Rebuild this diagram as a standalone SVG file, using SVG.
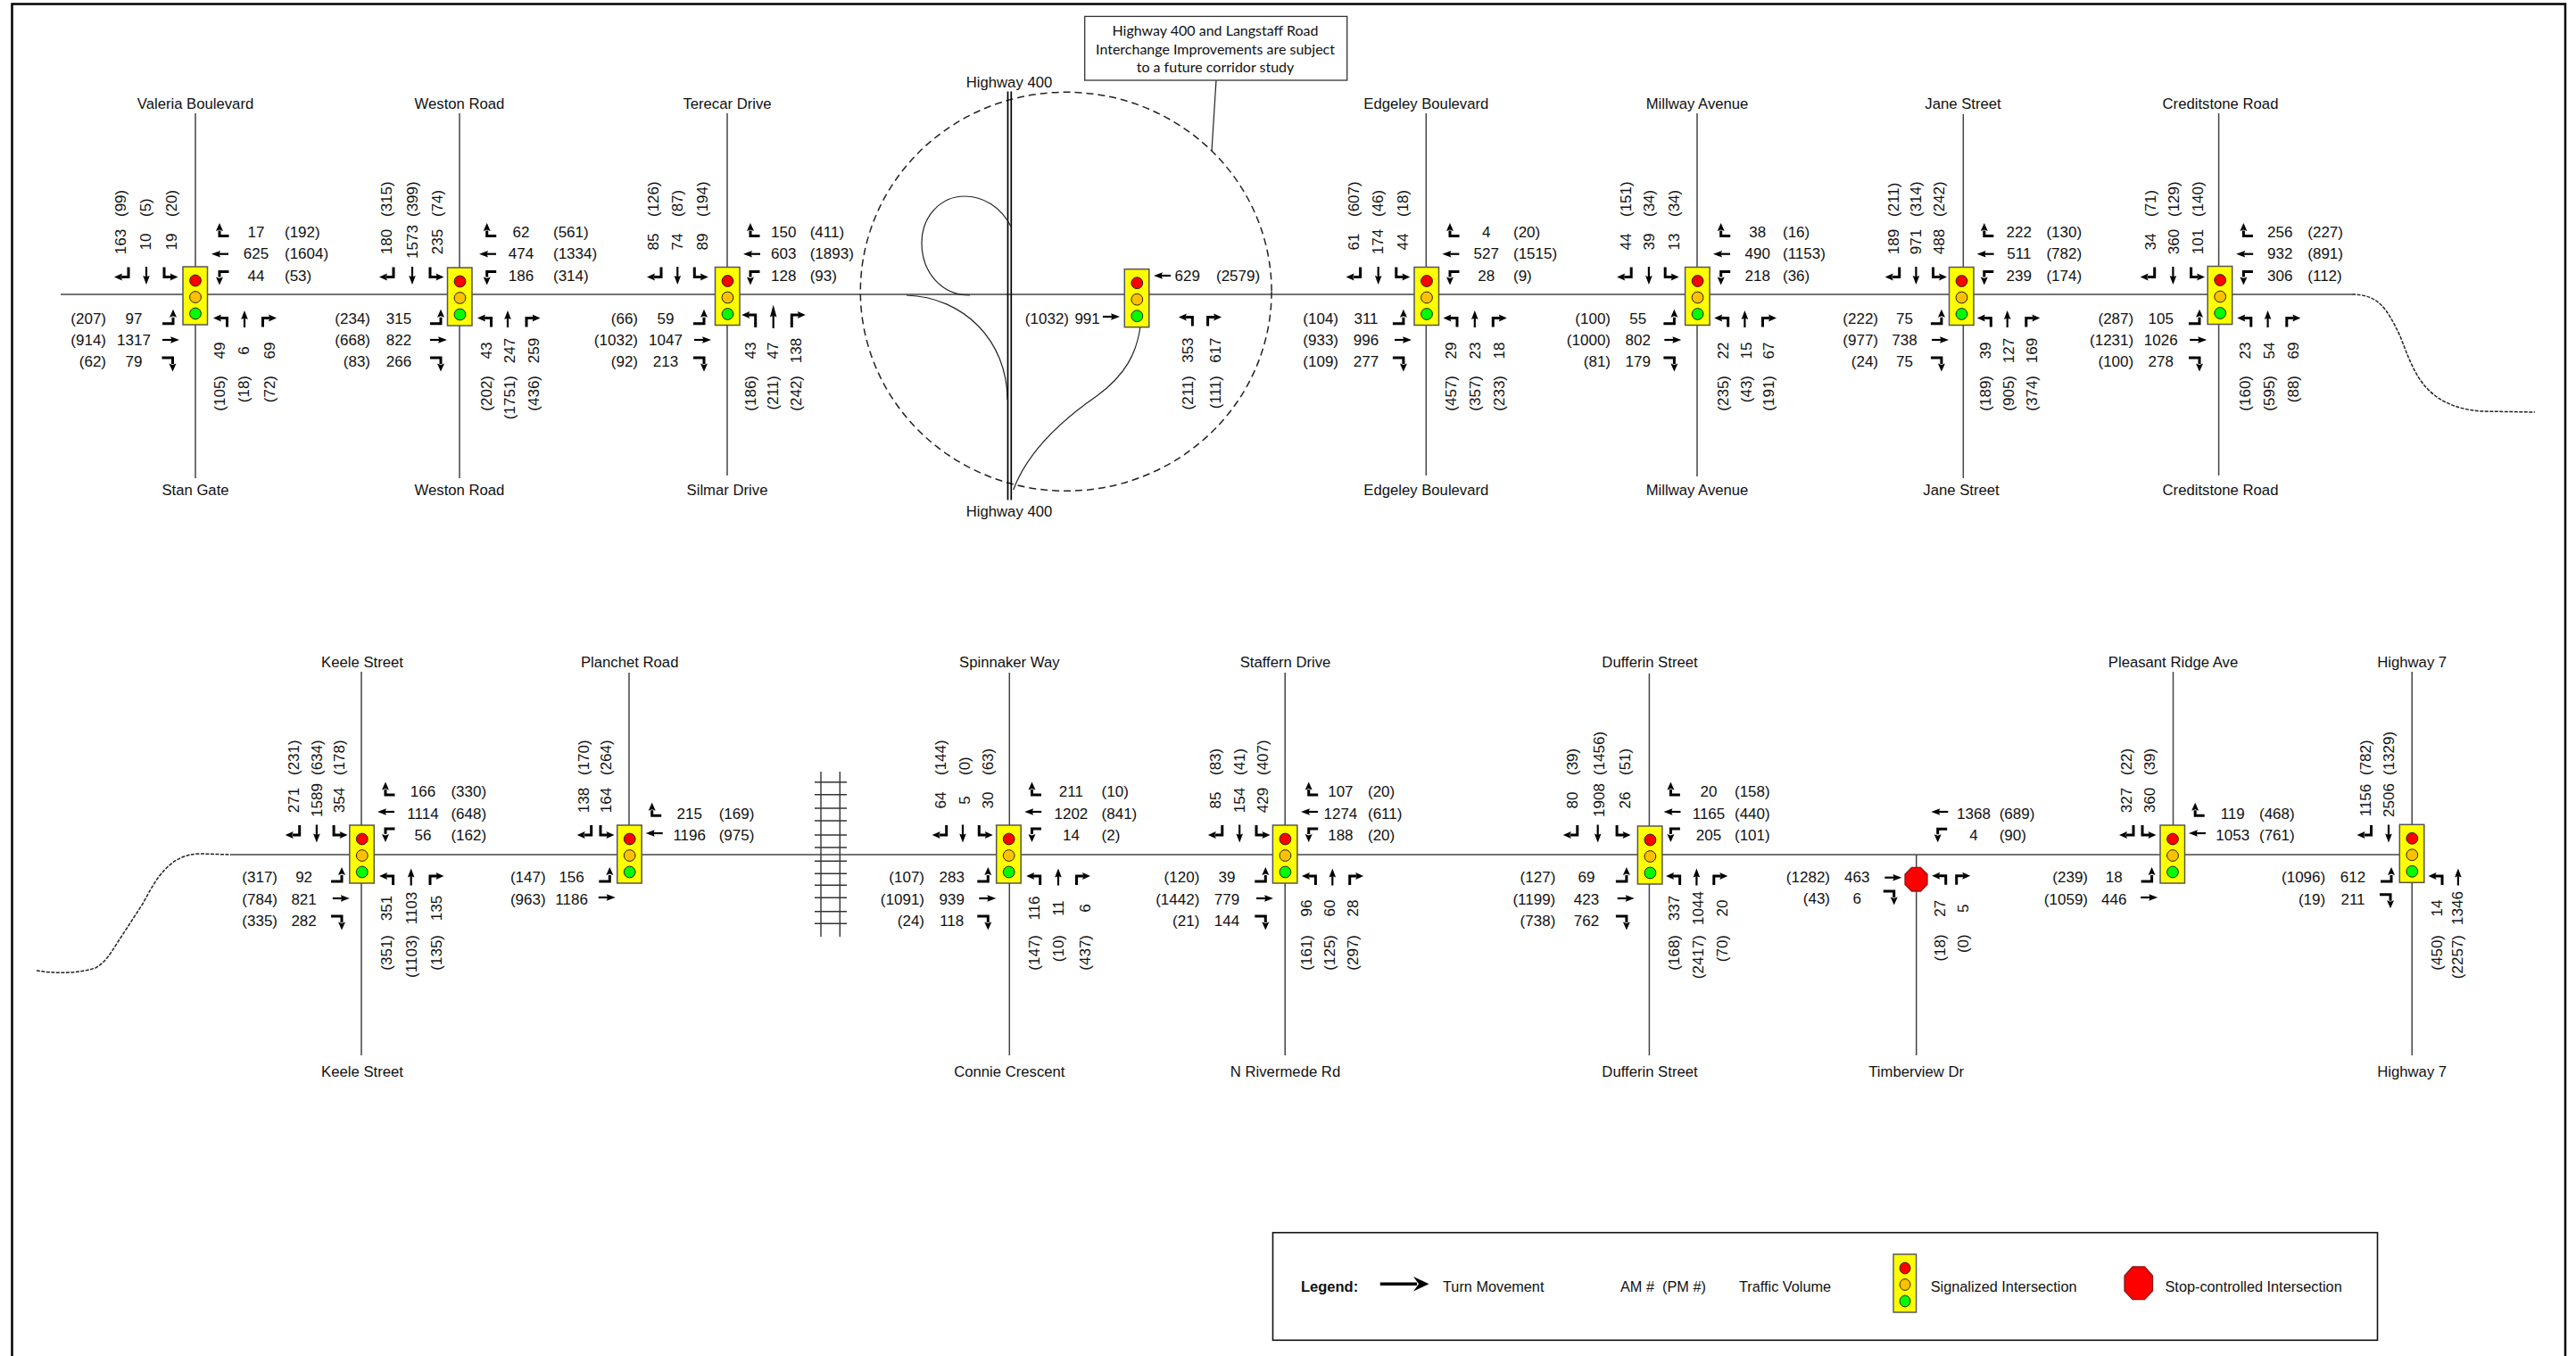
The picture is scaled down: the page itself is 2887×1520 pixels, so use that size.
<svg xmlns="http://www.w3.org/2000/svg" width="2887" height="1520" viewBox="0 0 2887 1520">
<style>
text{font-family:"Liberation Sans",Arial,sans-serif;font-size:17px;fill:#111}
.m{text-anchor:middle}.e{text-anchor:end}
.nm{font-size:16.7px;text-anchor:middle}
.lg{font-size:16.3px}
.note{font-family:Lato,"Open Sans",sans-serif;font-size:16px;text-anchor:middle}
.s3{fill:none;stroke:#000;stroke-width:3}
.s2{fill:none;stroke:#000;stroke-width:2.2}
.h{fill:#000;stroke:none}
.rd{fill:none;stroke:#444;stroke-width:1.5}
.ramp{fill:none;stroke:#222;stroke-width:1.2}
.dash{fill:none;stroke:#222;stroke-width:1.5}
</style>
<defs>
<g id="sig"><rect width="27.5" height="65" fill="#ffff00" stroke="#555" stroke-width="1.5"/><circle cx="14" cy="15.5" r="6.4" fill="#ff0000" stroke="#222"/><circle cx="14" cy="34" r="6.4" fill="#ffc000" stroke="#222"/><circle cx="14" cy="52.5" r="6.4" fill="#00ff00" stroke="#222"/></g>
<g id="sR"><path class="s3" d="M0,-11V0H-8"/><path class="h" d="M-16,0L-7,-4L-8.5,0L-7,4Z"/></g>
<g id="sT"><path class="s2" d="M0,0V12"/><path class="h" d="M0,20L-3.8,10L0,11.5L3.8,10Z"/></g>
<g id="sL"><path class="s3" d="M0,-11V0H8"/><path class="h" d="M15.5,0L6.5,-4L8,0L6.5,4Z"/></g>
<g id="wR"><path class="s3" d="M10.5,0H0V-6"/><path class="h" d="M0,-14.5L-4,-5.5L0,-7L4,-5.5Z"/></g>
<g id="wT"><path class="s2" d="M0,0H-11"/><path class="h" d="M-19,0L-9,-3.8L-10.5,0L-9,3.8Z"/></g>
<g id="wL"><path class="s3" d="M10.5,0H0V6"/><path class="h" d="M0,15L-4,6L0,7.5L4,6Z"/></g>
<g id="nL"><path class="s3" d="M0,10V0H-8"/><path class="h" d="M-15.5,0L-6.5,-4L-8,0L-6.5,4Z"/></g>
<g id="nT"><path class="s2" d="M0,0V-11"/><path class="h" d="M0,-19L-3.8,-9L0,-10.5L3.8,-9Z"/></g>
<g id="nR"><path class="s3" d="M0,10V0H8"/><path class="h" d="M15.5,0L6.5,-4L8,0L6.5,4Z"/></g>
<g id="eL"><path class="s3" d="M-12,0H0V-7"/><path class="h" d="M0,-16L-4,-7L0,-8.5L4,-7Z"/></g>
<g id="eT"><path class="s2" d="M0,0H11"/><path class="h" d="M19,0L9,-3.8L10.5,0L9,3.8Z"/></g>
<g id="eR"><path class="s3" d="M-12,0H0V7"/><path class="h" d="M0,15.5L-4,6.5L0,8L4,6.5Z"/></g>
</defs>
<rect width="2887" height="1520" fill="#fff"/>
<path id="frame" d="M13.5,1520V4.5H2875V1520" fill="none" stroke="#000" stroke-width="2.5"/>

<g id="connectors">
<path class="rd" d="M68,330H2636"/>
<path class="dash" stroke-dasharray="4 1.5" d="M2636,330C2665,330 2675,345 2690,377C2705,415 2715,455 2780,461L2841,462"/>
<path class="rd" d="M259,958H2690"/>
<path class="dash" stroke-dasharray="4 1.5" d="M41,1088C60,1091 85,1092 107,1085C120,1078 127,1063 134,1053L160,1013C175,985 190,957 225,957L259,958"/>
<path class="rd" d="M219,127V536M515,127V536M815,127V533M1598.3,127V533M1902,127V534M2200.3,128V536M2486.6,127V533"/>
<path class="rd" d="M405,753V1183M705,754V925M1131.3,754V1183M1440.2,754V1183M1848.4,755V1183M2147.7,958V1183M2435.5,753V925M2703.2,753V1183"/>
<g id="interchange">
<ellipse class="dash" cx="1194.7" cy="326.8" rx="230.4" ry="223.5" stroke-dasharray="8 5"/>
<path d="M1129.5,102.5V560.5M1133.3,102.5V560.5" fill="none" stroke="#000" stroke-width="1.7"/>
<path class="ramp" d="M1133,254C1122,232 1102,220 1081,220C1054,220 1033,243 1033,272C1033,305 1055,331 1087,331"/>
<path class="ramp" d="M1016,331C1080,333 1129,382 1129,448"/>
<path class="ramp" d="M1278,366C1274,395 1262,420 1229,444C1190,471 1152,505 1135.7,549"/>
<path class="ramp" d="M1363,90L1358,169.5"/>
</g>
<g id="railway" fill="none" stroke="#333" stroke-width="1.4">
<path d="M920,865V1050M941.3,865V1050"/>
<path d="M913,876.7H949M913,890.7H949M913,906H949M913,920H949M913,936H949M913,950H949M913,965.3H949M913,979.3H949M913,992.3H949M913,1006.3H949M913,1021.7H949M913,1035.3H949"/>
</g>
</g>

<g id="n1">
<use href="#sig" x="205" y="299"/>
<text class="nm" x="219" y="122">Valeria Boulevard</text><text class="nm" x="219" y="555">Stan Gate</text>
<use href="#sR" x="144" y="310.5"/><use href="#sT" x="164" y="299"/><use href="#sL" x="184" y="310.5"/>
<use href="#wR" x="246" y="264.5"/><use href="#wT" x="256" y="284.7"/><use href="#wL" x="246" y="304.5"/>
<use href="#nL" x="254.5" y="356.5"/><use href="#nT" x="274" y="367"/><use href="#nR" x="294.5" y="356.5"/>
<use href="#eL" x="194" y="362.7"/><use href="#eT" x="182" y="381"/><use href="#eR" x="193.5" y="401"/>
<text class="m" transform="translate(141,271) rotate(-90)">163</text><text class="m" transform="translate(169,271) rotate(-90)">10</text><text class="m" transform="translate(198,271) rotate(-90)">19</text>
<text transform="translate(141,243) rotate(-90)">(99)</text><text transform="translate(169,243) rotate(-90)">(5)</text><text transform="translate(198,243) rotate(-90)">(20)</text>
<text class="m" x="287" y="266">17</text><text x="319" y="266">(192)</text><text class="m" x="287" y="290">625</text><text x="319" y="290">(1604)</text><text class="m" x="287" y="314.5">44</text><text x="319" y="314.5">(53)</text>
<text class="e" x="119" y="363">(207)</text><text class="m" x="150" y="363">97</text><text class="e" x="119" y="387">(914)</text><text class="m" x="150" y="387">1317</text><text class="e" x="119" y="411">(62)</text><text class="m" x="150" y="411">79</text>
<text class="m" transform="translate(252,393) rotate(-90)">49</text><text class="m" transform="translate(279,393) rotate(-90)">6</text><text class="m" transform="translate(308,393) rotate(-90)">69</text>
<text class="e" transform="translate(252,421) rotate(-90)">(105)</text><text class="e" transform="translate(279,421) rotate(-90)">(18)</text><text class="e" transform="translate(308,421) rotate(-90)">(72)</text>
</g>

<g id="n2">
<use href="#sig" x="501.5" y="300"/>
<text class="nm" x="515" y="122">Weston Road</text><text class="nm" x="515" y="555">Weston Road</text>
<use href="#sR" x="441" y="310.5"/><use href="#sT" x="462" y="299"/><use href="#sL" x="482" y="310.5"/>
<use href="#wR" x="545.7" y="264.5"/><use href="#wT" x="556" y="284.7"/><use href="#wL" x="545.7" y="304.5"/>
<use href="#nL" x="550.5" y="356.5"/><use href="#nT" x="569" y="367"/><use href="#nR" x="590" y="356.5"/>
<use href="#eL" x="494" y="362.7"/><use href="#eT" x="482" y="381"/><use href="#eR" x="494" y="401"/>
<text class="m" transform="translate(439,271) rotate(-90)">180</text><text class="m" transform="translate(468,271) rotate(-90)">1573</text><text class="m" transform="translate(496,271) rotate(-90)">235</text>
<text transform="translate(439,243) rotate(-90)">(315)</text><text transform="translate(468,243) rotate(-90)">(399)</text><text transform="translate(496,243) rotate(-90)">(74)</text>
<text class="m" x="584" y="266">62</text><text x="620" y="266">(561)</text><text class="m" x="584" y="290">474</text><text x="620" y="290">(1334)</text><text class="m" x="584" y="314.5">186</text><text x="620" y="314.5">(314)</text>
<text class="e" x="415" y="363">(234)</text><text class="m" x="447" y="363">315</text><text class="e" x="415" y="387">(668)</text><text class="m" x="447" y="387">822</text><text class="e" x="415" y="411">(83)</text><text class="m" x="447" y="411">266</text>
<text class="m" transform="translate(551,393) rotate(-90)">43</text><text class="m" transform="translate(577,393) rotate(-90)">247</text><text class="m" transform="translate(604,393) rotate(-90)">259</text>
<text class="e" transform="translate(551,421) rotate(-90)">(202)</text><text class="e" transform="translate(577,421) rotate(-90)">(1751)</text><text class="e" transform="translate(604,421) rotate(-90)">(436)</text>
</g>

<g id="n3">
<use href="#sig" x="801.5" y="299.5"/>
<text class="nm" x="815" y="122">Terecar Drive</text><text class="nm" x="815" y="555">Silmar Drive</text>
<use href="#sR" x="741" y="310.5"/><use href="#sT" x="759.3" y="299"/><use href="#sL" x="778.3" y="310.5"/>
<use href="#wR" x="841" y="264.5"/><use href="#wT" x="852" y="284.7"/><use href="#wL" x="841" y="304.5"/>
<use href="#nL" x="846.7" y="353"/><path class="s3" d="M846.7,362V367M887.3,362V367"/><use href="#nT" transform="translate(866.7,368) scale(1,1.38)"/><use href="#nR" x="887.3" y="353"/>
<use href="#eL" x="789" y="362.7"/><use href="#eT" x="778" y="381"/><use href="#eR" x="789" y="401"/>
<text class="m" transform="translate(738.3,271) rotate(-90)">85</text><text class="m" transform="translate(764.7,271) rotate(-90)">74</text><text class="m" transform="translate(792.7,271) rotate(-90)">89</text>
<text transform="translate(738.3,243) rotate(-90)">(126)</text><text transform="translate(764.7,243) rotate(-90)">(87)</text><text transform="translate(792.7,243) rotate(-90)">(194)</text>
<text class="m" x="878.3" y="266">150</text><text x="907.7" y="266">(411)</text><text class="m" x="878.3" y="290">603</text><text x="907.7" y="290">(1893)</text><text class="m" x="878.3" y="314.5">128</text><text x="907.7" y="314.5">(93)</text>
<text class="e" x="715" y="363">(66)</text><text class="m" x="746" y="363">59</text><text class="e" x="715" y="387">(1032)</text><text class="m" x="746" y="387">1047</text><text class="e" x="715" y="411">(92)</text><text class="m" x="746" y="411">213</text>
<text class="m" transform="translate(847,393) rotate(-90)">43</text><text class="m" transform="translate(871.7,393) rotate(-90)">47</text><text class="m" transform="translate(897.7,393) rotate(-90)">138</text>
<text class="e" transform="translate(847,421) rotate(-90)">(186)</text><text class="e" transform="translate(871.7,421) rotate(-90)">(211)</text><text class="e" transform="translate(897.7,421) rotate(-90)">(242)</text>
</g>

<g id="n4">
<text class="nm" x="1131" y="98">Highway 400</text><text class="nm" x="1131" y="579">Highway 400</text>
<use href="#sig" x="1260.3" y="301.7"/>
<use href="#wT" x="1312" y="309"/><use href="#eT" x="1236" y="355"/><use href="#nL" x="1336.4" y="355.5"/><use href="#nR" x="1353.6" y="355.5"/>
<text class="m" x="1330.7" y="315">629</text><text x="1363" y="315">(2579)</text>
<text class="e" x="1198" y="363">(1032)</text><text class="m" x="1218.6" y="363">991</text>
<text class="m" transform="translate(1337,392.6) rotate(-90)">353</text><text class="m" transform="translate(1368,392.6) rotate(-90)">617</text>
<text class="e" transform="translate(1337,421) rotate(-90)">(211)</text><text class="e" transform="translate(1368,421) rotate(-90)">(111)</text>
</g>
<g id="note">
<rect x="1215.7" y="18.4" width="294" height="71.6" fill="#fff" stroke="#333" stroke-width="1.3"/>
<text class="note" x="1362" y="39.5">Highway 400 and Langstaff Road</text>
<text class="note" x="1362" y="60.5">Interchange Improvements are subject</text>
<text class="note" x="1362" y="80.5">to a future corridor study</text>
</g>

<g id="n5">
<use href="#sig" x="1585" y="299.5"/>
<text class="nm" x="1598.3" y="122">Edgeley Boulevard</text><text class="nm" x="1598.3" y="555">Edgeley Boulevard</text>
<use href="#sR" x="1524.6" y="310.5"/><use href="#sT" x="1544.7" y="299"/><use href="#sL" x="1564.8" y="310.5"/>
<use href="#wR" x="1625" y="264.5"/><use href="#wT" x="1635.4" y="284.7"/><use href="#wL" x="1625" y="304.5"/>
<use href="#nL" x="1633" y="356.5"/><use href="#nT" x="1652.8" y="367"/><use href="#nR" x="1673.3" y="356.5"/>
<use href="#eL" x="1572.9" y="362.7"/><use href="#eT" x="1563" y="381"/><use href="#eR" x="1572.9" y="401"/>
<text class="m" transform="translate(1523,271) rotate(-90)">61</text><text class="m" transform="translate(1550,271) rotate(-90)">174</text><text class="m" transform="translate(1577.5,271) rotate(-90)">44</text>
<text transform="translate(1523,243) rotate(-90)">(607)</text><text transform="translate(1550,243) rotate(-90)">(46)</text><text transform="translate(1577.5,243) rotate(-90)">(18)</text>
<text class="m" x="1665.7" y="266">4</text><text x="1696" y="266">(20)</text><text class="m" x="1665.7" y="290">527</text><text x="1696" y="290">(1515)</text><text class="m" x="1665.7" y="314.5">28</text><text x="1696" y="314.5">(9)</text>
<text class="e" x="1500" y="363">(104)</text><text class="m" x="1531" y="363">311</text><text class="e" x="1500" y="387">(933)</text><text class="m" x="1531" y="387">996</text><text class="e" x="1500" y="411">(109)</text><text class="m" x="1531" y="411">277</text>
<text class="m" transform="translate(1632.4,393) rotate(-90)">29</text><text class="m" transform="translate(1659,393) rotate(-90)">23</text><text class="m" transform="translate(1686,393) rotate(-90)">18</text>
<text class="e" transform="translate(1632.4,421) rotate(-90)">(457)</text><text class="e" transform="translate(1659,421) rotate(-90)">(357)</text><text class="e" transform="translate(1686,421) rotate(-90)">(233)</text>
</g>

<g id="n6">
<use href="#sig" x="1888.6" y="299.5"/>
<text class="nm" x="1902" y="122">Millway Avenue</text><text class="nm" x="1902" y="555">Millway Avenue</text>
<use href="#sR" x="1828.2" y="310.5"/><use href="#sT" x="1847.9" y="299"/><use href="#sL" x="1866.2" y="310.5"/>
<use href="#wR" x="1928.7" y="264.5"/><use href="#wT" x="1939" y="284.7"/><use href="#wL" x="1928.7" y="304.5"/>
<use href="#nL" x="1936.7" y="356.5"/><use href="#nT" x="1955.4" y="367"/><use href="#nR" x="1975.5" y="356.5"/>
<use href="#eL" x="1876.4" y="362.7"/><use href="#eT" x="1865.3" y="381"/><use href="#eR" x="1876.4" y="401"/>
<text class="m" transform="translate(1828.4,271) rotate(-90)">44</text><text class="m" transform="translate(1854.3,271) rotate(-90)">39</text><text class="m" transform="translate(1882,271) rotate(-90)">13</text>
<text transform="translate(1828.4,243) rotate(-90)">(151)</text><text transform="translate(1854.3,243) rotate(-90)">(34)</text><text transform="translate(1882,243) rotate(-90)">(34)</text>
<text class="m" x="1969.7" y="266">38</text><text x="1998" y="266">(16)</text><text class="m" x="1969.7" y="290">490</text><text x="1998" y="290">(1153)</text><text class="m" x="1969.7" y="314.5">218</text><text x="1998" y="314.5">(36)</text>
<text class="e" x="1805" y="363">(100)</text><text class="m" x="1835.8" y="363">55</text><text class="e" x="1805" y="387">(1000)</text><text class="m" x="1835.8" y="387">802</text><text class="e" x="1805" y="411">(81)</text><text class="m" x="1835.8" y="411">179</text>
<text class="m" transform="translate(1936.9,393) rotate(-90)">22</text><text class="m" transform="translate(1962.8,393) rotate(-90)">15</text><text class="m" transform="translate(1988.2,393) rotate(-90)">67</text>
<text class="e" transform="translate(1936.9,421) rotate(-90)">(235)</text><text class="e" transform="translate(1962.8,421) rotate(-90)">(43)</text><text class="e" transform="translate(1988.2,421) rotate(-90)">(191)</text>
</g>

<g id="n7">
<use href="#sig" x="2184.5" y="299.5"/>
<text class="nm" x="2200" y="122">Jane Street</text><text class="nm" x="2198" y="555">Jane Street</text>
<use href="#sR" x="2128.7" y="310.5"/><use href="#sT" x="2147.4" y="299"/><use href="#sL" x="2166.5" y="310.5"/>
<use href="#wR" x="2223.8" y="264.5"/><use href="#wT" x="2234.6" y="284.7"/><use href="#wL" x="2223.8" y="304.5"/>
<use href="#nL" x="2231.3" y="356.5"/><use href="#nT" x="2249.7" y="367"/><use href="#nR" x="2270.8" y="356.5"/>
<use href="#eL" x="2175.9" y="362.7"/><use href="#eT" x="2165" y="381"/><use href="#eR" x="2175.9" y="401"/>
<text class="m" transform="translate(2127.5,271) rotate(-90)">189</text><text class="m" transform="translate(2153.4,271) rotate(-90)">971</text><text class="m" transform="translate(2179,271) rotate(-90)">488</text>
<text transform="translate(2127.5,243) rotate(-90)">(211)</text><text transform="translate(2153.4,243) rotate(-90)">(314)</text><text transform="translate(2179,243) rotate(-90)">(242)</text>
<text class="m" x="2262.8" y="266">222</text><text x="2293.4" y="266">(130)</text><text class="m" x="2262.8" y="290">511</text><text x="2293.4" y="290">(782)</text><text class="m" x="2262.8" y="314.5">239</text><text x="2293.4" y="314.5">(174)</text>
<text class="e" x="2105" y="363">(222)</text><text class="m" x="2134.5" y="363">75</text><text class="e" x="2105" y="387">(977)</text><text class="m" x="2134.5" y="387">738</text><text class="e" x="2105" y="411">(24)</text><text class="m" x="2134.5" y="411">75</text>
<text class="m" transform="translate(2231,393) rotate(-90)">39</text><text class="m" transform="translate(2257,393) rotate(-90)">127</text><text class="m" transform="translate(2283,393) rotate(-90)">169</text>
<text class="e" transform="translate(2231,421) rotate(-90)">(189)</text><text class="e" transform="translate(2257,421) rotate(-90)">(905)</text><text class="e" transform="translate(2283,421) rotate(-90)">(374)</text>
</g>

<g id="n8">
<use href="#sig" x="2474.2" y="298.5"/>
<text class="nm" x="2488.5" y="122">Creditstone Road</text><text class="nm" x="2488.5" y="555">Creditstone Road</text>
<use href="#sR" x="2414.7" y="310.5"/><use href="#sT" x="2435.4" y="299"/><use href="#sL" x="2455.6" y="310.5"/>
<use href="#wR" x="2514.4" y="264.5"/><use href="#wT" x="2525.2" y="284.7"/><use href="#wL" x="2514.4" y="304.5"/>
<use href="#nL" x="2522.8" y="356.5"/><use href="#nT" x="2541.6" y="367"/><use href="#nR" x="2562.8" y="356.5"/>
<use href="#eL" x="2465" y="362.7"/><use href="#eT" x="2454.2" y="381"/><use href="#eR" x="2465" y="401"/>
<text class="m" transform="translate(2415.5,271) rotate(-90)">34</text><text class="m" transform="translate(2442.3,271) rotate(-90)">360</text><text class="m" transform="translate(2468.6,271) rotate(-90)">101</text>
<text transform="translate(2415.5,243) rotate(-90)">(71)</text><text transform="translate(2442.3,243) rotate(-90)">(129)</text><text transform="translate(2468.6,243) rotate(-90)">(140)</text>
<text class="m" x="2555.3" y="266">256</text><text x="2586.3" y="266">(227)</text><text class="m" x="2555.3" y="290">932</text><text x="2586.3" y="290">(891)</text><text class="m" x="2555.3" y="314.5">306</text><text x="2586.3" y="314.5">(112)</text>
<text class="e" x="2391.2" y="363">(287)</text><text class="m" x="2421.7" y="363">105</text><text class="e" x="2391.2" y="387">(1231)</text><text class="m" x="2421.7" y="387">1026</text><text class="e" x="2391.2" y="411">(100)</text><text class="m" x="2421.7" y="411">278</text>
<text class="m" transform="translate(2521.8,393) rotate(-90)">23</text><text class="m" transform="translate(2548.6,393) rotate(-90)">54</text><text class="m" transform="translate(2575.8,393) rotate(-90)">69</text>
<text class="e" transform="translate(2521.8,421) rotate(-90)">(160)</text><text class="e" transform="translate(2548.6,421) rotate(-90)">(595)</text><text class="e" transform="translate(2575.8,421) rotate(-90)">(88)</text>
</g>

<g id="n9">
<use href="#sig" x="391.8" y="925"/>
<text class="nm" x="406" y="748">Keele Street</text><text class="nm" x="406" y="1207">Keele Street</text>
<use href="#sR" x="335.7" y="936"/><use href="#sT" x="354.9" y="924.5"/><use href="#sL" x="374.1" y="936"/>
<use href="#wR" x="432" y="891"/><use href="#wT" x="442" y="910"/><use href="#wL" x="432" y="929"/>
<use href="#nL" x="440.6" y="982"/><use href="#nT" x="460.7" y="992.5"/><use href="#nR" x="482" y="982"/>
<use href="#eL" x="383" y="988"/><use href="#eT" x="372.8" y="1007"/><use href="#eR" x="383" y="1027"/>
<text class="m" transform="translate(334.6,897) rotate(-90)">271</text><text class="m" transform="translate(360.5,897) rotate(-90)">1589</text><text class="m" transform="translate(385.5,897) rotate(-90)">354</text>
<text transform="translate(334.6,869) rotate(-90)">(231)</text><text transform="translate(360.5,869) rotate(-90)">(634)</text><text transform="translate(385.5,869) rotate(-90)">(178)</text>
<text class="m" x="474" y="893">166</text><text x="505.4" y="893">(330)</text><text class="m" x="474" y="917.5">1114</text><text x="505.4" y="917.5">(648)</text><text class="m" x="474" y="941.5">56</text><text x="505.4" y="941.5">(162)</text>
<text class="e" x="311" y="989">(317)</text><text class="m" x="340.6" y="989">92</text><text class="e" x="311" y="1013.5">(784)</text><text class="m" x="340.6" y="1013.5">821</text><text class="e" x="311" y="1038">(335)</text><text class="m" x="340.6" y="1038">282</text>
<text class="m" transform="translate(439,1018) rotate(-90)">351</text><text class="m" transform="translate(466.7,1018) rotate(-90)">1103</text><text class="m" transform="translate(494.8,1018) rotate(-90)">135</text>
<text class="e" transform="translate(439,1048) rotate(-90)">(351)</text><text class="e" transform="translate(466.7,1048) rotate(-90)">(1103)</text><text class="e" transform="translate(494.8,1048) rotate(-90)">(135)</text>
</g>

<g id="n10">
<use href="#sig" x="691.7" y="925"/>
<text class="nm" x="705.7" y="748">Planchet Road</text>
<use href="#sR" x="662.7" y="936"/><use href="#sL" x="673" y="936"/>
<use href="#wR" x="730.7" y="914.3"/><use href="#wT" x="742.7" y="934"/>
<use href="#eL" x="683.3" y="988"/><use href="#eT" x="670.7" y="1006"/>
<text class="m" transform="translate(660.3,897) rotate(-90)">138</text><text class="m" transform="translate(685.3,897) rotate(-90)">164</text>
<text transform="translate(660.3,869) rotate(-90)">(170)</text><text transform="translate(685.3,869) rotate(-90)">(264)</text>
<text class="m" x="772.7" y="917.7">215</text><text x="805.7" y="917.7">(169)</text><text class="m" x="772.7" y="941.7">1196</text><text x="805.7" y="941.7">(975)</text>
<text class="e" x="611.6" y="989">(147)</text><text class="m" x="640.6" y="989">156</text><text class="e" x="611.6" y="1013.5">(963)</text><text class="m" x="640.6" y="1013.5">1186</text>
</g>

<g id="n11">
<use href="#sig" x="1116.7" y="925"/>
<text class="nm" x="1131.3" y="748">Spinnaker Way</text><text class="nm" x="1131.3" y="1207">Connie Crescent</text>
<use href="#sR" x="1060.7" y="936"/><use href="#sT" x="1079" y="924.5"/><use href="#sL" x="1097.3" y="936"/>
<use href="#wR" x="1156.5" y="891"/><use href="#wT" x="1167.2" y="910"/><use href="#wL" x="1156.5" y="929"/>
<use href="#nL" x="1165.7" y="982"/><use href="#nT" x="1186" y="992.5"/><use href="#nR" x="1206.5" y="982"/>
<use href="#eL" x="1107.3" y="988"/><use href="#eT" x="1097.3" y="1007"/><use href="#eR" x="1107.3" y="1027"/>
<text class="m" transform="translate(1060,897) rotate(-90)">64</text><text class="m" transform="translate(1086.7,897) rotate(-90)">5</text><text class="m" transform="translate(1112.7,897) rotate(-90)">30</text>
<text transform="translate(1060,869) rotate(-90)">(144)</text><text transform="translate(1086.7,869) rotate(-90)">(0)</text><text transform="translate(1112.7,869) rotate(-90)">(63)</text>
<text class="m" x="1200.4" y="893">211</text><text x="1234.6" y="893">(10)</text><text class="m" x="1200.4" y="917.5">1202</text><text x="1234.6" y="917.5">(841)</text><text class="m" x="1200.4" y="941.5">14</text><text x="1234.6" y="941.5">(2)</text>
<text class="e" x="1036" y="989">(107)</text><text class="m" x="1066.7" y="989">283</text><text class="e" x="1036" y="1013.5">(1091)</text><text class="m" x="1066.7" y="1013.5">939</text><text class="e" x="1036" y="1038">(24)</text><text class="m" x="1066.7" y="1038">118</text>
<text class="m" transform="translate(1165,1018) rotate(-90)">116</text><text class="m" transform="translate(1192,1018) rotate(-90)">11</text><text class="m" transform="translate(1221.7,1018) rotate(-90)">6</text>
<text class="e" transform="translate(1165,1048) rotate(-90)">(147)</text><text class="e" transform="translate(1192,1048) rotate(-90)">(10)</text><text class="e" transform="translate(1221.7,1048) rotate(-90)">(437)</text>
</g>

<g id="n12">
<use href="#sig" x="1426.4" y="925"/>
<text class="nm" x="1440.5" y="748">Staffern Drive</text><text class="nm" x="1440.5" y="1207">N Rivermede Rd</text>
<use href="#sR" x="1369.8" y="936"/><use href="#sT" x="1389.2" y="924.5"/><use href="#sL" x="1408" y="936"/>
<use href="#wR" x="1466.7" y="891"/><use href="#wT" x="1477" y="910"/><use href="#wL" x="1466.7" y="929"/>
<use href="#nL" x="1474.4" y="982"/><use href="#nT" x="1493.3" y="992.5"/><use href="#nR" x="1512.7" y="982"/>
<use href="#eL" x="1418.3" y="988"/><use href="#eT" x="1408" y="1007"/><use href="#eR" x="1418.3" y="1027"/>
<text class="m" transform="translate(1368,897) rotate(-90)">85</text><text class="m" transform="translate(1394.7,897) rotate(-90)">154</text><text class="m" transform="translate(1420.7,897) rotate(-90)">429</text>
<text transform="translate(1368,869) rotate(-90)">(83)</text><text transform="translate(1394.7,869) rotate(-90)">(41)</text><text transform="translate(1420.7,869) rotate(-90)">(407)</text>
<text class="m" x="1502.4" y="893">107</text><text x="1533" y="893">(20)</text><text class="m" x="1502.4" y="917.5">1274</text><text x="1533" y="917.5">(611)</text><text class="m" x="1502.4" y="941.5">188</text><text x="1533" y="941.5">(20)</text>
<text class="e" x="1344.3" y="989">(120)</text><text class="m" x="1375" y="989">39</text><text class="e" x="1344.3" y="1013.5">(1442)</text><text class="m" x="1375" y="1013.5">779</text><text class="e" x="1344.3" y="1038">(21)</text><text class="m" x="1375" y="1038">144</text>
<text class="m" transform="translate(1470.2,1018) rotate(-90)">96</text><text class="m" transform="translate(1495.7,1018) rotate(-90)">60</text><text class="m" transform="translate(1522.2,1018) rotate(-90)">28</text>
<text class="e" transform="translate(1470.2,1048) rotate(-90)">(161)</text><text class="e" transform="translate(1495.7,1048) rotate(-90)">(125)</text><text class="e" transform="translate(1522.2,1048) rotate(-90)">(297)</text>
</g>

<g id="n13">
<use href="#sig" x="1835.4" y="926"/>
<text class="nm" x="1849" y="748">Dufferin Street</text><text class="nm" x="1849" y="1207">Dufferin Street</text>
<use href="#sR" x="1767.8" y="936"/><use href="#sT" x="1790.7" y="924.5"/><use href="#sL" x="1812.1" y="936"/>
<use href="#wR" x="1872.4" y="891"/><use href="#wT" x="1883.5" y="910"/><use href="#wL" x="1872.4" y="929"/>
<use href="#nL" x="1882.6" y="982"/><use href="#nT" x="1901.4" y="992.5"/><use href="#nR" x="1920.8" y="982"/>
<use href="#eL" x="1822.9" y="988"/><use href="#eT" x="1812.7" y="1007"/><use href="#eR" x="1822.9" y="1027"/>
<text class="m" transform="translate(1767.6,897) rotate(-90)">80</text><text class="m" transform="translate(1797.7,897) rotate(-90)">1908</text><text class="m" transform="translate(1827.3,897) rotate(-90)">26</text>
<text transform="translate(1767.6,869) rotate(-90)">(39)</text><text transform="translate(1797.7,869) rotate(-90)">(1456)</text><text transform="translate(1827.3,869) rotate(-90)">(51)</text>
<text class="m" x="1915" y="893">20</text><text x="1944" y="893">(158)</text><text class="m" x="1915" y="917.5">1165</text><text x="1944" y="917.5">(440)</text><text class="m" x="1915" y="941.5">205</text><text x="1944" y="941.5">(101)</text>
<text class="e" x="1743.3" y="989">(127)</text><text class="m" x="1778" y="989">69</text><text class="e" x="1743.3" y="1013.5">(1199)</text><text class="m" x="1778" y="1013.5">423</text><text class="e" x="1743.3" y="1038">(738)</text><text class="m" x="1778" y="1038">762</text>
<text class="m" transform="translate(1882,1018) rotate(-90)">337</text><text class="m" transform="translate(1909,1018) rotate(-90)">1044</text><text class="m" transform="translate(1935.7,1018) rotate(-90)">20</text>
<text class="e" transform="translate(1882,1048) rotate(-90)">(168)</text><text class="e" transform="translate(1909,1048) rotate(-90)">(2417)</text><text class="e" transform="translate(1935.7,1048) rotate(-90)">(70)</text>
</g>

<g id="n14">
<polygon points="2142.5,972.3 2152.5,972.3 2160,980 2160,991.5 2152.5,999 2142.5,999 2135,991.5 2135,980" fill="#ff0000" stroke="#8a1a1a" stroke-width="1.3"/>
<text class="nm" x="2147.7" y="1207">Timberview Dr</text>
<use href="#wT" x="2183.3" y="910"/><use href="#wL" x="2171.7" y="929.3"/>
<use href="#nL" x="2180.7" y="981.7"/><use href="#nR" x="2192.7" y="981.7"/>
<use href="#eT" x="2112.3" y="983.7"/><use href="#eR" x="2122.7" y="999"/>
<text class="m" x="2212" y="917.7">1368</text><text x="2240.7" y="917.7">(689)</text><text class="m" x="2212" y="942">4</text><text x="2240.7" y="942">(90)</text>
<text class="e" x="2051" y="989">(1282)</text><text class="m" x="2081.3" y="989">463</text><text class="e" x="2051" y="1013.3">(43)</text><text class="m" x="2081.3" y="1013.3">6</text>
<text class="m" transform="translate(2180,1018.3) rotate(-90)">27</text><text class="m" transform="translate(2206,1018.3) rotate(-90)">5</text>
<text class="e" transform="translate(2180,1047.3) rotate(-90)">(18)</text><text class="e" transform="translate(2206,1047.3) rotate(-90)">(0)</text>
</g>

<g id="n15">
<use href="#sig" x="2421" y="925"/>
<text class="nm" x="2435.5" y="748">Pleasant Ridge Ave</text>
<use href="#sR" x="2391" y="936"/><use href="#sL" x="2401" y="936"/>
<use href="#wR" x="2460.2" y="914.3"/><use href="#wT" x="2472" y="934"/>
<use href="#eL" x="2411.6" y="988"/><use href="#eT" x="2399.2" y="1006"/>
<text class="m" transform="translate(2389,897) rotate(-90)">327</text><text class="m" transform="translate(2415,897) rotate(-90)">360</text>
<text transform="translate(2389,869) rotate(-90)">(22)</text><text transform="translate(2415,869) rotate(-90)">(39)</text>
<text class="m" x="2502.2" y="917.7">119</text><text x="2532" y="917.7">(468)</text><text class="m" x="2502.2" y="941.7">1053</text><text x="2532" y="941.7">(761)</text>
<text class="e" x="2340" y="989">(239)</text><text class="m" x="2369.3" y="989">18</text><text class="e" x="2340" y="1013.5">(1059)</text><text class="m" x="2369.3" y="1013.5">446</text>
</g>

<g id="n16">
<use href="#sig" x="2689.3" y="924.3"/>
<text class="nm" x="2703.2" y="748">Highway 7</text><text class="nm" x="2703.2" y="1207">Highway 7</text>
<use href="#sR" x="2657.5" y="936"/><use href="#sT" x="2677" y="924.5"/>
<use href="#nL" x="2737" y="982"/><use href="#nT" x="2754.9" y="992.5"/>
<use href="#eL" x="2680" y="988"/><use href="#eR" x="2679" y="1002.7"/>
<text class="m" transform="translate(2657,897) rotate(-90)">1156</text><text class="m" transform="translate(2683.4,897) rotate(-90)">2506</text>
<text transform="translate(2657,869) rotate(-90)">(782)</text><text transform="translate(2683.4,869) rotate(-90)">(1329)</text>
<text class="e" x="2606.2" y="989">(1096)</text><text class="m" x="2637" y="989">612</text><text class="e" x="2606.2" y="1014">(19)</text><text class="m" x="2637" y="1014">211</text>
<text class="m" transform="translate(2736.5,1018) rotate(-90)">14</text><text class="m" transform="translate(2760,1018) rotate(-90)">1346</text>
<text class="e" transform="translate(2736.5,1048) rotate(-90)">(450)</text><text class="e" transform="translate(2760,1048) rotate(-90)">(2257)</text>
</g>

<g id="legend">
<rect x="1426.5" y="1381.7" width="1238" height="120.6" fill="#fff" stroke="#111" stroke-width="1.6"/>
<text class="lg" x="1458" y="1447.5" style="font-weight:bold;font-size:16.5px">Legend:</text>
<path d="M1546.8,1439.3H1588" fill="none" stroke="#000" stroke-width="3.4"/><path class="h" d="M1601.5,1439.3L1584,1431L1590,1439.3L1584,1447.6Z"/>
<text class="lg" x="1617" y="1447.5">Turn Movement</text>
<text class="lg" x="1816" y="1447.5" style="white-space:pre">AM #  (PM #)</text>
<text class="lg" x="1949" y="1447.5">Traffic Volume</text>
<use href="#sig" transform="translate(2122,1406) scale(0.93,1)"/>
<text class="lg" x="2163.7" y="1447.5">Signalized Intersection</text>
<polygon points="2390,1420 2403.5,1420 2412.5,1430 2412.5,1447 2403.5,1456.7 2390,1456.7 2381,1447 2381,1430" fill="#ff0000" stroke="#8a1a1a" stroke-width="1.3"/>
<text class="lg" x="2426.5" y="1447.5">Stop-controlled Intersection</text>
</g>
</svg>
